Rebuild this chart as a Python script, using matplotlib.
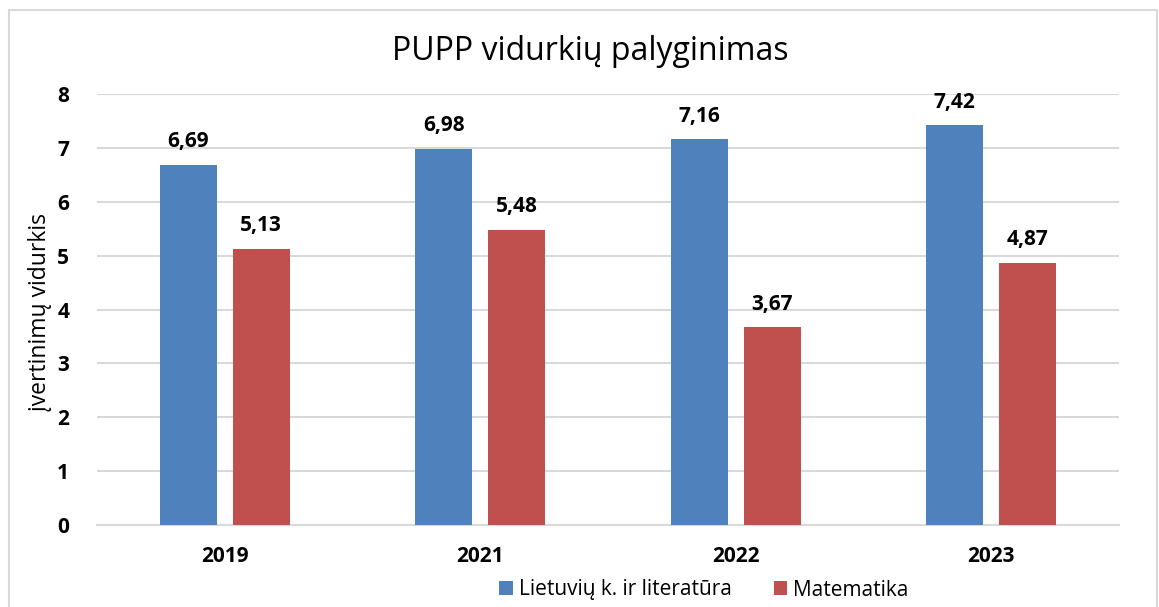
import matplotlib
matplotlib.use("Agg")
import matplotlib.pyplot as plt
from matplotlib.patches import Rectangle
import numpy as np

plt.rcParams['font.family'] = ['Open Sans', 'DejaVu Sans']

years = ["2019", "2021", "2022", "2023"]
lietuviu = [6.69, 6.98, 7.16, 7.42]
matematika = [5.13, 5.48, 3.67, 4.87]
series_names = ["Lietuvių k. ir literatūra", "Matematika"]
title = "PUPP vidurkių palyginimas"
ylabel = "įvertinimų vidurkis"

c_blue = "#4F81BD"
c_red = "#C0504D"
grid_c = "#D9D9D9"

fig = plt.figure(figsize=(11.59, 6.07), dpi=100)
ax = fig.add_axes([97/1159, 1-525/607, (1119-97)/1159, (525-94)/607])

# figure frame
fig.patches.append(Rectangle((9/1159, -0.01), (1157-9)/1159, 1-10/607+0.01,
                             transform=fig.transFigure, fill=False,
                             edgecolor="#D9D9D9", linewidth=1.5))

x = np.arange(len(years))
w = 0.223
off = 0.143
b1 = ax.bar(x - off, lietuviu, w, color=c_blue, label=series_names[0], zorder=3)
b2 = ax.bar(x + off, matematika, w, color=c_red, label=series_names[1], zorder=3)

for bars, vals in ((b1, lietuviu), (b2, matematika)):
    for b, v in zip(bars, vals):
        ax.annotate(f"{v:.2f}".replace(".", ","), (b.get_x() + b.get_width()/2, v),
                    xytext=(0, 9), textcoords="offset points", ha="center",
                    va="bottom", fontsize=15, fontweight="bold", color="black")

ax.set_xlim(-0.5, len(years) - 0.5)
ax.set_ylim(0, 8)
ax.set_yticks(range(0, 9))
ax.set_xticks(x)
ax.set_xticklabels(years)
ax.yaxis.grid(True, color=grid_c, linewidth=1.5, zorder=0)
ax.set_axisbelow(True)
for s in ["top", "right", "left"]:
    ax.spines[s].set_visible(False)
ax.spines["bottom"].set_color(grid_c)
ax.spines["bottom"].set_linewidth(1.5)
ax.tick_params(axis="both", length=0, labelsize=15)
ax.tick_params(axis="y", pad=20)
ax.tick_params(axis="x", pad=15)
for lab in ax.get_xticklabels() + ax.get_yticklabels():
    lab.set_fontweight("bold")

fig.text(40/1159, 1-312/607, ylabel, rotation=90, ha="center", va="center", fontsize=16.5)
fig.text(590/1159, 1-52/607, title, ha="center", va="center", fontsize=23)

leg = fig.legend(handles=[b1, b2], labels=series_names, loc="center",
                 bbox_to_anchor=(704/1159, 1-590/607), ncol=2, frameon=False,
                 fontsize=15, handlelength=0.65, handleheight=0.65,
                 handletextpad=0.3, columnspacing=2.0)

fig.savefig("out.png", dpi=100)
